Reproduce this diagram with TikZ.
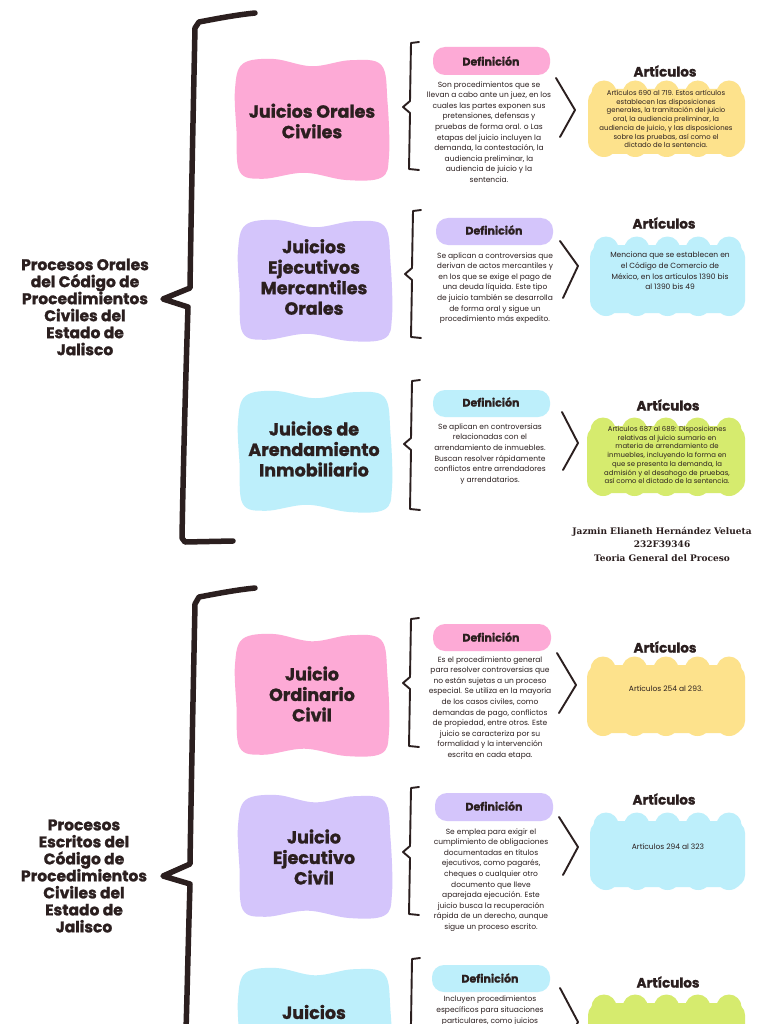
\documentclass[tikz,border=0pt]{standalone}
\usepackage{fontspec}
\setmainfont{Poppins}
\newfontfamily\headfont{Poppins}[BoldFeatures={FakeBold=1.3}]
\newfontfamily\authorfont{DejaVu Serif}
\definecolor{ink}{HTML}{2B1F1F}
\definecolor{cpink}{HTML}{FDAAD6}
\definecolor{cpurple}{HTML}{D4C5FB}
\definecolor{cblue}{HTML}{BDEFFB}
\definecolor{cyellow}{HTML}{FDE28C}
\definecolor{cgreen}{HTML}{D6EB6E}
\tikzset{
 bigbrace/.style={line width=5.5pt, line join=round, line cap=round, draw=ink},
 smallbrace/.style={line width=1.9pt, line join=round, line cap=round, draw=ink},
 chev/.style={line width=1.9pt, line join=round, line cap=round, draw=ink},
 titletext/.style={align=center, font=\headfont\bfseries\fontsize{15.5}{17}\selectfont, text=ink, inner sep=0},
 juicio/.style={align=center, font=\headfont\bfseries\fontsize{17.5}{20.5}\selectfont, text=ink, inner sep=0},
 defhead/.style={font=\headfont\bfseries\fontsize{11}{12}\selectfont, text=ink, inner sep=0},
 arthead/.style={font=\headfont\bfseries\fontsize{13.5}{14}\selectfont, text=ink, inner sep=0},
 deftext/.style={align=center, font=\fontsize{7.5}{10.6}\selectfont, text=ink, inner sep=0},
 arttext/.style={align=center, font=\fontsize{6.9}{8.7}\selectfont, text=ink, inner sep=0},
 arttextb/.style={align=center, font=\fontsize{7.5}{10.7}\selectfont, text=ink, inner sep=0},
 authortext/.style={align=center, font=\authorfont\bfseries\fontsize{9}{13.5}\selectfont, text=ink, inner sep=0},
 pill/.style={rounded corners=12pt},
}
% wavy blob: x1 y1 x2 y2 colour
\newcommand\wblob[5]{%
 \fill[#5] plot[smooth cycle, tension=0.6] coordinates {
  ({#1+0.00*(#3-#1)},{#2+0.25*(#4-#2)})
  ({#1+0.05*(#3-#1)},{#2+0.04*(#4-#2)})
  ({#1+0.25*(#3-#1)},{#2+0.00*(#4-#2)})
  ({#1+0.50*(#3-#1)},{#2+0.06*(#4-#2)})
  ({#1+0.75*(#3-#1)},{#2+0.01*(#4-#2)})
  ({#1+0.95*(#3-#1)},{#2+0.05*(#4-#2)})
  ({#1+0.99*(#3-#1)},{#2+0.35*(#4-#2)})
  ({#1+1.00*(#3-#1)},{#2+0.80*(#4-#2)})
  ({#1+0.95*(#3-#1)},{#2+0.98*(#4-#2)})
  ({#1+0.72*(#3-#1)},{#2+1.00*(#4-#2)})
  ({#1+0.45*(#3-#1)},{#2+0.94*(#4-#2)})
  ({#1+0.18*(#3-#1)},{#2+0.99*(#4-#2)})
  ({#1+0.03*(#3-#1)},{#2+0.93*(#4-#2)})
  ({#1+0.01*(#3-#1)},{#2+0.60*(#4-#2)})
 };}
% cloud blob: x1 y1 x2 y2 colour
\newcommand\cblob[5]{%
 \fill[#5, rounded corners=12pt] (#1,{#2+8}) rectangle (#3,{#4-3});
 \foreach \i in {0,...,4} {\fill[#5] ({#1+16+\i*(#3-#1-32)/4},{#2+12}) circle (12.5pt);}
 \foreach \i in {0,...,4} {\fill[#5] ({#1+16+\i*(#3-#1-32)/4},{#4-14}) circle (14pt);}
}
% small brace: x-line top tip bottom
\newcommand\sbrace[4]{%
 \draw[smallbrace] ({#1+9},#2) -- ({#1+1},{#2+1}) -- (#1,{#3-6}) -- ({#1-7},#3) -- (#1,{#3+6}) -- ({#1-1},{#4-1}) -- ({#1+9},#4);}
\begin{document}
\begin{tikzpicture}[x=1pt,y=-1pt]
\useasboundingbox (0,0) rectangle (768,1024);
\clip (0,0) rectangle (768,1024);
\fill[white] (0,0) rectangle (768,1024);

% ================= SECTION A =================
\draw[bigbrace] (255,13) .. controls (235,15) and (215,19) .. (199,22) -- (195,28)
  .. controls (193,120) and (191,220) .. (190,288) -- (163,299) -- (188,307)
  .. controls (185,400) and (183,480) .. (182,538) -- (185,542) -- (233,541);
\node[titletext] (tA) at (85,307) {Procesos Orales\\del Código de\\Procedimientos\\Civiles del\\Estado de\\Jalisco};

\wblob{235}{59}{389}{180}{cpink}
\node[juicio] (j1) at (312,121) {Juicios Orales\\Civiles};
\wblob{238}{220}{392}{341}{cpurple}
\node[juicio] (j2) at (314,277) {Juicios\\Ejecutivos\\Mercantiles\\Orales};
\wblob{238}{391}{392}{512}{cblue}
\node[juicio] (j3) at (314,449) {Juicios de\\Arendamiento\\Inmobiliario};

% row 1
\sbrace{410}{42}{107}{170}
\fill[cpink, pill] (433,47) rectangle (550,75);
\node[defhead] (dh1) at (491,61) {Definición};
\node[deftext] (dt1) at (489,132) {Son procedimientos que se\\llevan a cabo ante un juez, en los\\cuales las partes exponen sus\\pretensiones, defensas y\\pruebas de forma oral. o Las\\etapas del juicio incluyen la\\demanda, la contestación, la\\audiencia preliminar, la\\audiencia de juicio y la\\sentencia.};
\draw[chev] (556,78) -- (575,110) -- (560,137);
\node[arthead] (ah1) at (665,71) {Artículos};
\cblob{588}{81}{745}{157}{cyellow}
\node[arttext] (at1) at (666,119) {Artículos 690 al 719. Estos artículos\\establecen las disposiciones\\generales, la tramitación del juicio\\oral, la audiencia preliminar, la\\audiencia de juicio, y las disposiciones\\sobre las pruebas, así como el\\dictado de la sentencia.};

% row 2
\sbrace{412}{210}{274}{338}
\fill[cpurple, pill] (436,218) rectangle (553,245);
\node[defhead] (dh2) at (494,230) {Definición};
\node[deftext] (dt2) at (495,288) {Se aplican a controversias que\\derivan de actos mercantiles y\\en los que se exige el pago de\\una deuda líquida.  Este tipo\\de juicio también se desarrolla\\de forma oral y sigue un\\procedimiento más expedito.};
\draw[chev] (560,241) -- (578,266) -- (563,298);
\node[arthead] (ah2) at (664,223) {Artículos};
\cblob{590}{237}{745}{316}{cblue}
\node[arttextb] (at2) at (670,271) {Menciona que se establecen en\\el Código de Comercio de\\México, en los artículos 1390 bis\\al 1390 bis 49};

% row 3
\sbrace{411}{380}{444}{510}
\fill[cblue, pill] (433,390) rectangle (550,417);
\node[defhead] (dh3) at (491,402) {Definición};
\node[deftext] (dt3) at (490,454) {Se aplican en controversias\\relacionadas con el\\arrendamiento de inmuebles.\\Buscan resolver rápidamente\\conflictos entre arrendadores\\y arrendatarios.};
\draw[chev] (562,412) -- (578,443) -- (563,470);
\node[arthead] (ah3) at (668,405) {Artículos};
\cblob{587}{418}{745}{496}{cgreen}
\node[arttext] (at3) at (667,455) {Artículos 687 al 689: Disposiciones\\relativas al juicio sumario en\\materia de arrendamiento de\\inmuebles, incluyendo la forma en\\que se presenta la demanda, la\\admisión y el desahogo de pruebas,\\así como el dictado de la sentencia.};

\node[authortext] (auth) at (662,544) {Jazmin Elianeth Hernández Velueta\\232F39346\\Teoria General del Proceso};

% ================= SECTION B =================
\draw[bigbrace] (255,588) .. controls (235,590) and (215,594) .. (199,597) -- (195,604)
  .. controls (193,700) and (191,800) .. (190,864) -- (163,876) -- (190,884)
  .. controls (188,950) and (187,1000) .. (186,1030);
\node[titletext] (tB) at (84,876) {Procesos\\Escritos del\\Código de\\Procedimientos\\Civiles del\\Estado de\\Jalisco};

\wblob{235}{634}{389}{756}{cpink}
\node[juicio] (j4) at (312,694) {Juicio\\Ordinario\\Civil};
\wblob{238}{795}{392}{918}{cpurple}
\node[juicio] (j5) at (314,857) {Juicio\\Ejecutivo\\Civil};
\wblob{238}{968}{392}{1090}{cblue}
\node[juicio] (j6) at (314,1012) {Juicios};

% row 4
\sbrace{410}{618}{683}{747}
\fill[cpink, pill] (433,624) rectangle (551,651);
\node[defhead] (dh4) at (491,637) {Definición};
\node[deftext] (dt4) at (490,708) {Es el procedimiento general\\para resolver controversias que\\no están sujetas a un proceso\\especial. Se utiliza en la mayoría\\de los casos civiles, como\\demandas de pago, conflictos\\de propiedad, entre otros.  Este\\juicio se caracteriza por su\\formalidad y la intervención\\escrita en cada etapa.};
\draw[chev] (557,653) -- (576,685) -- (559,713);
\node[arthead] (ah4) at (665,647) {Artículos};
\cblob{587}{657}{745}{736}{cyellow}
\node[arttextb] (at4) at (666,689) {Artículos 254 al 293.};

% row 5
\sbrace{410}{787}{852}{915}
\fill[cpurple, pill] (435,793) rectangle (553,821);
\node[defhead] (dh5) at (494,806) {Definición};
\node[deftext] (dt5) at (491,880) {Se emplea para exigir el\\cumplimiento de obligaciones\\documentadas en títulos\\ejecutivos, como pagarés,\\cheques o cualquier otro\\documento que lleve\\aparejada ejecución. Este\\juicio busca la recuperación\\rápida de un derecho, aunque\\sigue un proceso escrito.};
\draw[chev] (559,817) -- (578,847) -- (563,875);
\node[arthead] (ah5) at (664,799) {Artículos};
\cblob{590}{813}{745}{890}{cblue}
\node[arttextb] (at5) at (668,847) {Artículos 294 al 323};

% row 6
\sbrace{411}{958}{1030}{1100}
\fill[cblue, pill] (432,965) rectangle (550,992);
\node[defhead] (dh6) at (490,978) {Definición};
\node[deftext, anchor=north] (dt6) at (490,996) {Incluyen procedimientos\\específicos para situaciones\\particulares, como juicios};
\draw[chev] (560,988) -- (578,1022) -- (563,1052);
\node[arthead] (ah6) at (668,982) {Artículos};
\cblob{588}{995}{745}{1080}{cgreen}
\end{tikzpicture}
\end{document}
